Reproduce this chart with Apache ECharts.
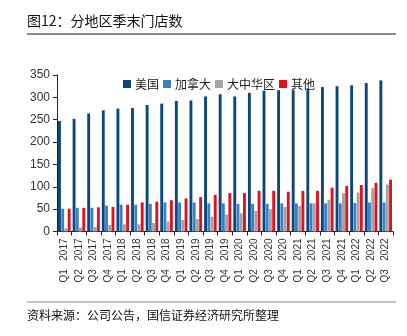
<!DOCTYPE html>
<html><head><meta charset="utf-8">
<script src="https://cdn.jsdelivr.net/npm/echarts@6/dist/echarts.min.js"></script>
<style>html,body{margin:0;padding:0;background:#fff}#c{width:407px;height:336px}</style>
</head><body><div id="c"></div>
<script>
const categories = ["Q1 2017","Q2 2017","Q3 2017","Q4 2017","Q1 2018","Q2 2018","Q3 2018","Q4 2018","Q1 2019","Q2 2019","Q3 2019","Q4 2019","Q1 2020","Q2 2020","Q3 2020","Q4 2020","Q1 2021","Q2 2021","Q3 2021","Q4 2021","Q1 2022","Q2 2022","Q3 2022"];
const usa = [247,252,264,271,275,276,283,286,292,293,302,307,302,310,315,316,316,320,323,325,327,332,338];
const canada = [51,53,53,58,60,60,62,65,65,65,63,63,62,62,62,63,63,63,63,63,64,65,65];
const greaterChina = [7,9,10,15,16,16,19,22,26,28,33,38,41,46,50,55,57,63,71,86,87,97,105];
const other = [51,53,54,55,60,65,67,70,74,77,82,86,86,91,91,89,91,91,98,102,104,109,116];
const yTicks = [0,50,100,150,200,250,300,350];
const seriesNames = ["美国","加拿大","大中华区","其他"];
const colors = ["#0b477f","#3b80c6","#a3a3a3","#e5101e"];

const chart = echarts.init(document.getElementById('c'), null, {renderer:'canvas'});
const font = '"Liberation Sans", Arial, sans-serif';
const cjk = '"Noto Sans CJK SC", sans-serif';
const dataSets = [usa, canada, greaterChina, other];
chart.setOption({
  animation:false,
  color: colors,
  graphic: [
    {type:'text', left:27, top:14, style:{text:'图12：分地区季末门店数', font:'14px '+cjk, fill:'#111'}},
    {type:'line', shape:{x1:27,y1:34,x2:396,y2:34}, style:{stroke:'#666', lineWidth:1.5}},
    {type:'line', shape:{x1:27,y1:302,x2:396,y2:302}, style:{stroke:'#888', lineWidth:1}},
    {type:'text', left:27, top:309, style:{text:'资料来源：公司公告，国信证券经济研究所整理', font:'12px '+cjk, fill:'#111'}}
  ],
  legend: {
    top: 73, left: 118, itemWidth: 8, itemHeight: 8, itemGap: 4, icon:'rect',
    textStyle:{fontFamily:cjk, fontSize:12, color:'#222', padding:[0,0,0,-1]},
    data: seriesNames
  },
  grid: {left:57, right:14, top:75, bottom:104.5, containLabel:false},
  xAxis: {
    type:'category', data: categories,
    axisLine:{lineStyle:{color:'#222', width:1}},
    axisTick:{show:true, length:4, lineStyle:{color:'#222'}},
    axisLabel:{rotate:90, fontFamily:font, fontSize:10, color:'#333', margin:7, interval:0,
      formatter: v => v.replace(' ', '   ')}
  },
  yAxis: {
    type:'value', min:yTicks[0], max:yTicks[yTicks.length-1], interval:50,
    splitLine:{show:false},
    axisLine:{show:true, lineStyle:{color:'#222', width:1}},
    axisTick:{show:true, length:4, lineStyle:{color:'#222'}},
    axisLabel:{fontFamily:font, fontSize:12, color:'#333', margin:7}
  },
  series: seriesNames.map((n,i)=>({
    name:n, type:'bar', data:dataSets[i],
    barGap:'12%', barCategoryGap:'14%'
  }))
});
</script></body></html>
